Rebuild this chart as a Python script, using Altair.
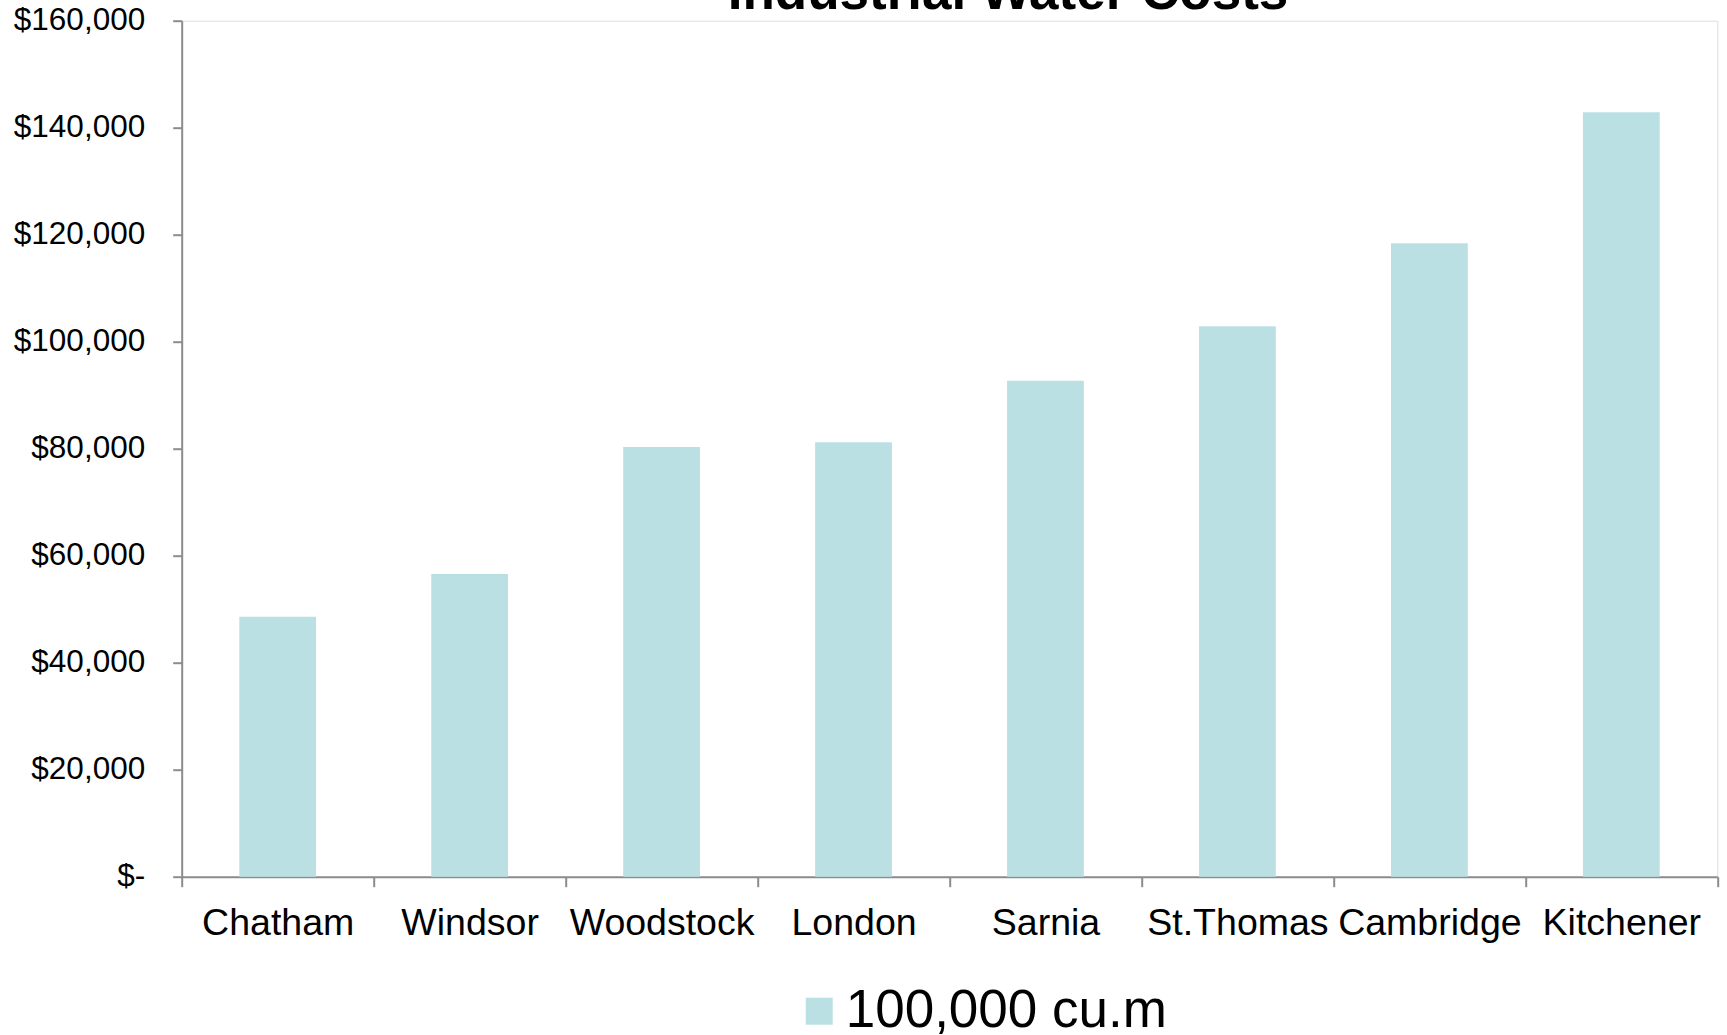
import altair as alt
import pandas as pd

cities = ["Chatham", "Windsor", "Woodstock", "London", "Sarnia", "St.Thomas", "Cambridge", "Kitchener"]
costs = [48600, 56600, 80300, 81200, 92700, 102900, 118400, 142900]
series_name = "100,000 cu.m"
y_ticks = [0, 20000, 40000, 60000, 80000, 100000, 120000, 140000, 160000]
title_text = ["Industrial Water Costs"]

df = pd.DataFrame({"city": cities, "cost": costs, "series": [series_name] * len(cities)})
title_df = pd.DataFrame({"t": title_text})

FONT = "Liberation Sans"
AXIS_GRAY = "#8C8C8C"
BAR = "#BAE0E3"

bars = (
    alt.Chart(df)
    .mark_bar(width=alt.RelativeBandSize(0.4), color=BAR)
    .encode(
        x=alt.X(
            "city:N",
            sort=cities,
            scale=alt.Scale(paddingInner=0, paddingOuter=0),
            axis=alt.Axis(
                title=None,
                labelAngle=0,
                tickBand="extent",
                labelFontSize=37.5,
                labelFont=FONT,
                labelColor="#000000",
                labelPadding=18,
                labelLimit=0,
                labelOverlap=False,
                tickSize=10,
                tickWidth=2,
                tickColor=AXIS_GRAY,
                domainColor=AXIS_GRAY,
                domainWidth=2,
                grid=False,
            ),
        ),
        y=alt.Y(
            "cost:Q",
            scale=alt.Scale(domain=[0, 160000], nice=False, zero=True),
            axis=alt.Axis(
                title=None,
                values=y_ticks,
                labelExpr="datum.value == 0 ? '$-' : '$' + format(datum.value, ',')",
                labelFontSize=31.5,
                labelFont=FONT,
                labelColor="#000000",
                labelPadding=28,
                labelLimit=0,
                tickSize=9,
                tickWidth=2,
                tickColor=AXIS_GRAY,
                domainColor=AXIS_GRAY,
                domainWidth=2,
                grid=False,
            ),
        ),
        color=alt.Color(
            "series:N",
            scale=alt.Scale(domain=[series_name], range=[BAR]),
            legend=alt.Legend(
                title=None,
                orient="none",
                legendX=611,
                legendY=964,
                padding=0,
                symbolType="square",
                symbolSize=729,
                symbolStrokeWidth=0,
                labelFontSize=53,
                labelFont=FONT,
                labelColor="#000000",
                labelOffset=0,
                labelLimit=0,
            ),
        ),
    )
)

title = (
    alt.Chart(title_df)
    .mark_text(
        font=FONT,
        fontSize=53,
        fontWeight="bold",
        color="#000000",
        align="center",
        baseline="alphabetic",
    )
    .encode(text="t:N", x=alt.value(826.3), y=alt.value(-11.7))
)

chart = (
    alt.layer(bars, title)
    .properties(
        width=1535.6,
        height=856,
        autosize=alt.AutoSizeParams(type="none"),
        padding={"left": 181.7, "top": 20.7, "right": 9.7, "bottom": 158.3},
    )
    .configure_view(stroke=None)
    .configure(background="#FFFFFF")
)

chart.save("out.html", embed_options={"renderer": "svg", "actions": False})
